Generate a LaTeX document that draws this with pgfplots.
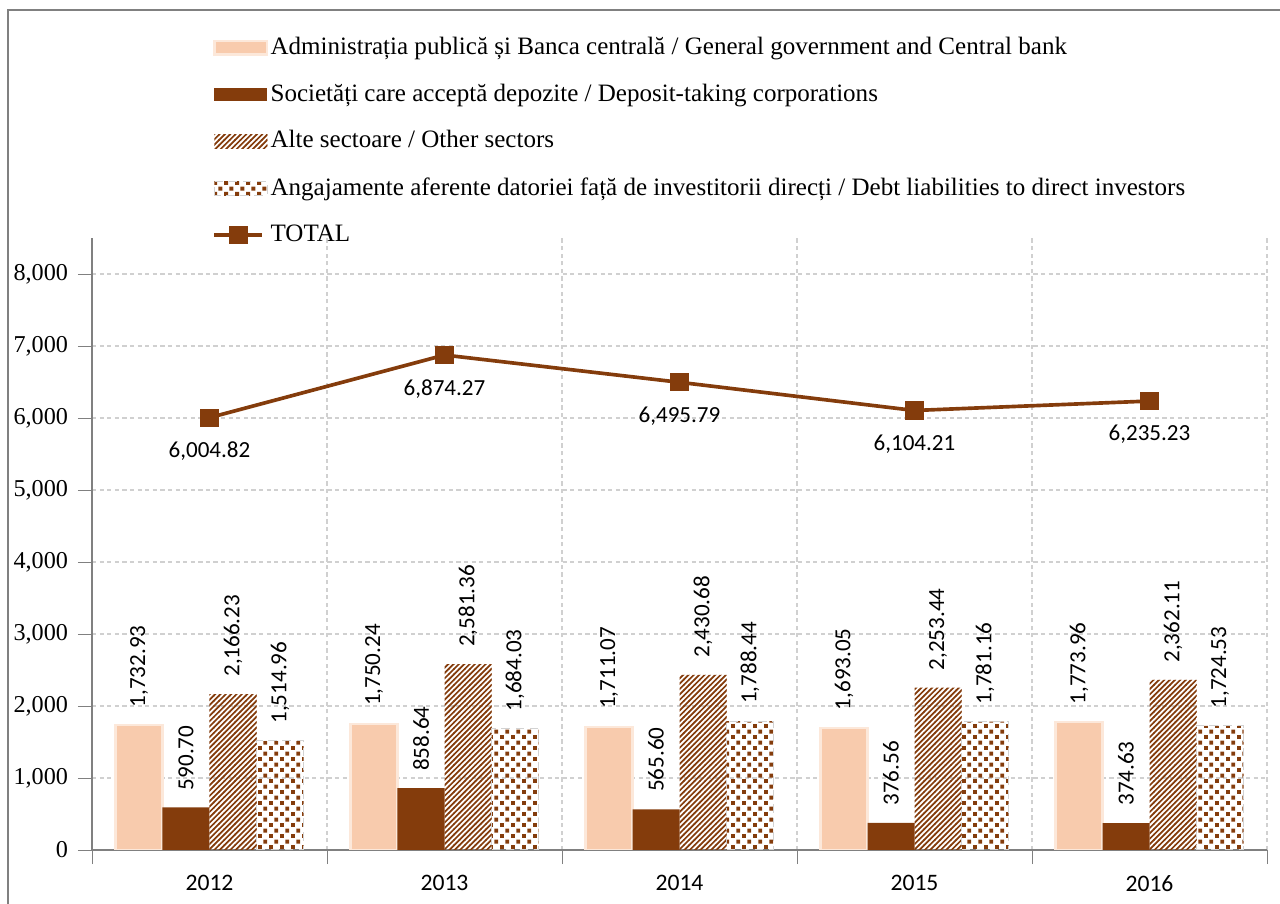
\documentclass[border=0pt]{standalone}
\usepackage{pgfplots}
\pgfplotsset{compat=1.18}
\usepackage{graphicx}
\usepackage{fontspec}
\setmainfont{Liberation Serif}
\newfontfamily\lab{Carlito}
\usetikzlibrary{patterns}

\definecolor{peach}{HTML}{F8CBAD}
\definecolor{brn}{HTML}{843C0C}
\definecolor{gridc}{HTML}{D0D0D0}

% diagonal stripes ////
\pgfdeclarepatternformonly{stripes}{\pgfqpoint{-1pt}{-1pt}}{\pgfqpoint{3pt}{3pt}}{\pgfqpoint{1.9pt}{1.9pt}}{%
  \pgfsetlinewidth{0.6pt}
  \pgfpathmoveto{\pgfqpoint{-0.1pt}{-0.1pt}}
  \pgfpathlineto{\pgfqpoint{2pt}{2pt}}
  \pgfusepath{stroke}}
% small squares
\pgfdeclarepatternformonly{squares}{\pgfpointorigin}{\pgfqpoint{4pt}{4pt}}{\pgfqpoint{4pt}{4pt}}{%
  \pgfpathrectangle{\pgfpointorigin}{\pgfqpoint{1.5pt}{1.5pt}}
  \pgfpathrectangle{\pgfqpoint{2pt}{2pt}}{\pgfqpoint{1.5pt}{1.5pt}}
  \pgfusepath{fill}}

\pgfplotsset{
  barlab/.style={
    bar shift=#1,
    nodes near coords={\rotatebox{90}{\pgfmathprintnumber[fixed,fixed zerofill,precision=2,1000 sep={,},assume math mode=true]{\pgfplotspointmeta}}},
    every node near coord/.append style={anchor=south, inner sep=0pt, inner ysep=6pt, xshift=#1,
      font=\lab\fontsize{8.2}{9}\selectfont, text=black}},
  barleg/.style={legend image code/.code={\path[##1] (0cm,-0.085cm) rectangle (0.66cm,0.085cm);}},
}

\begin{document}
\begin{tikzpicture}[x=1cm,y=1cm]
\path[use as bounding box] (0,0) rectangle (16,11.3);
\draw[gray, line width=1pt] (0.1,-0.2) -- (0.1,11.175) -- (16.3,11.175);
\begin{axis}[
  at={(1.15cm,0.675cm)}, anchor=south west,
  scale only axis, width=14.6875cm, height=7.65cm,
  xmin=-0.5, xmax=4.5, ymin=0, ymax=8500,
  axis x line*=bottom, axis y line*=left,
  axis line style={gray},
  xtick={0,1,2,3,4},
  xticklabels={2012,2013,2014,2015,2016},
  major x tick style={draw=none},
  minor xtick={-0.5,0.5,1.5,2.5,3.5,4.5},
  xminorgrids=true,
  ytick={0,1000,...,8000},
  ymajorgrids=true,
  grid style={line width=0.4pt, dash pattern=on 1.5pt off 1.2pt, gridc},
  minor grid style={line width=0.4pt, dash pattern=on 1.5pt off 1.2pt, gridc},
  tick align=outside,
  tick style={gray},
  major tick length=5pt, minor tick length=5pt,
  xticklabel style={font=\lab\fontsize{8.4}{10}\selectfont, yshift=-0.5pt},
  yticklabel style={font=\fontsize{8.6}{10}\selectfont},
  /pgf/number format/1000 sep={,},
  /pgf/number format/assume math mode=true,
  legend style={at={(0.095,1.348)}, anchor=north west, draw=none, fill=none,
    font=\fontsize{8.9}{10}\selectfont, row sep=5pt, cells={anchor=west},
    nodes={inner xsep=0.8pt}},
  legend cell align=left,
  bar width=0.5875cm,
]
\addplot[ybar, barlab=-0.88125cm, fill=peach, draw=peach!45!white, line width=0.8pt, barleg]
  coordinates {(0,1732.93) (1,1750.24) (2,1711.07) (3,1693.05) (4,1773.96)};
\addlegendentry{Administrația publică și Banca centrală / General government and Central bank}
\addplot[ybar, barlab=-0.29375cm, fill=brn, draw=none, barleg]
  coordinates {(0,590.70) (1,858.64) (2,565.60) (3,376.56) (4,374.63)};
\addlegendentry{Societăți care acceptă depozite / Deposit-taking corporations}
\addplot[ybar, barlab=0.29375cm, pattern=stripes, pattern color=brn, draw=none, barleg]
  coordinates {(0,2166.23) (1,2581.36) (2,2430.68) (3,2253.44) (4,2362.11)};
\addlegendentry{Alte sectoare / Other sectors}
\addplot[ybar, barlab=0.88125cm, pattern=squares, pattern color=brn, draw=gray!35, densely dashed, line width=0.4pt, barleg]
  coordinates {(0,1514.96) (1,1684.03) (2,1788.44) (3,1781.16) (4,1724.53)};
\addlegendentry{Angajamente aferente datoriei față de investitorii direcți / Debt liabilities to direct investors}
\addplot[brn, line width=1.3pt, mark=square*, mark size=2.6pt, mark options={solid},
  nodes near coords={\pgfmathprintnumber[fixed,fixed zerofill,precision=2,1000 sep={,},assume math mode=true]{\pgfplotspointmeta}},
  every node near coord/.append style={anchor=north, inner sep=0pt, yshift=-8pt,
    font=\lab\fontsize{8.2}{9}\selectfont, text=black}]
  coordinates {(0,6004.82) (1,6874.27) (2,6495.79) (3,6104.21) (4,6235.23)};
\addlegendentry{TOTAL}
\end{axis}
\end{tikzpicture}
\end{document}
